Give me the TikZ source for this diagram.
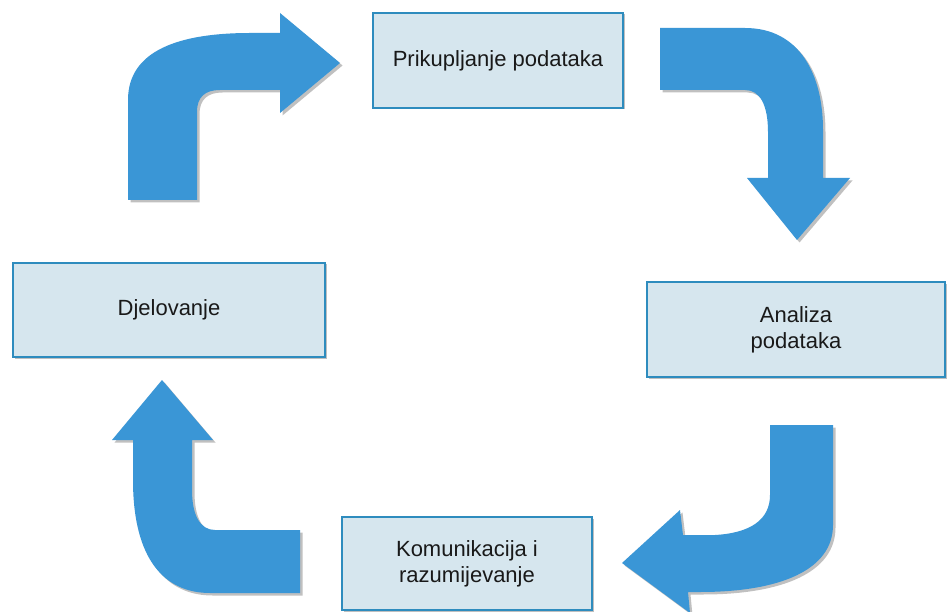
\documentclass[tikz,border=0pt]{standalone}
\usepackage{fontspec}
\setmainfont{Liberation Sans}
\usetikzlibrary{shadows}
\definecolor{arrowblue}{RGB}{58,150,214}
\definecolor{boxfill}{RGB}{214,230,238}
\definecolor{boxline}{RGB}{46,140,190}
\definecolor{txt}{RGB}{25,25,25}
\begin{document}
\begin{tikzpicture}[x=1pt,y=-1pt,
  stagebox/.style={draw=boxline, line width=2.5pt, fill=boxfill, text=txt,
    align=center, font=\fontsize{22}{26}\selectfont, inner sep=0pt,
    drop shadow={shadow xshift=1.5pt, shadow yshift=-1.5pt, opacity=0.25, fill=black}},
  bigarrow/.style={fill=arrowblue, draw=none,
    drop shadow={shadow xshift=2.5pt, shadow yshift=-2.5pt, opacity=0.35, fill=black!70}}]
\useasboundingbox (0,0) rectangle (947,612);
\fill[white] (0,0) rectangle (947,612);

% boxes
\node[stagebox, minimum width=250pt, minimum height=95pt] (collect) at (498,60.5) {Prikupljanje podataka};
\node[stagebox, minimum width=312pt, minimum height=94pt] (act) at (169,310) {Djelovanje};
\node[stagebox, minimum width=298pt, minimum height=95pt] (analyse) at (796,329.5) {Analiza\\podataka};
\node[stagebox, minimum width=250pt, minimum height=93pt] (comm) at (467,563.5) {Komunikacija i\\razumijevanje};

% top-left arrow
\path[bigarrow] (128,200) -- (128,100) .. controls (128,50) and (180,33) .. (250,33)
  -- (280,33) -- (280,13) -- (340,63) -- (280,113) -- (280,90) -- (220,90)
  .. controls (205,90) and (197,97) .. (197,112) -- (197,200) -- cycle;

% top-right arrow
\path[bigarrow] (660,28) -- (745,28) .. controls (800,28) and (823,75) .. (823,130)
  -- (823,178) -- (850,178) -- (797,240) -- (747,178) -- (768,178) -- (768,132)
  .. controls (768,105) and (760,90) .. (745,90) -- (660,90) -- cycle;

% bottom-right arrow
\path[bigarrow] (770,425) -- (833,425) -- (833,525) .. controls (833,570) and (780,592) .. (700,592)
  -- (688,592) -- (690,613) -- (622,563) -- (680,510) -- (683,535) -- (715,535)
  .. controls (750,533) and (770,520) .. (770,495) -- cycle;

% bottom-left arrow
\path[bigarrow] (162,380) -- (213,440) -- (192,440) -- (192,490)
  .. controls (192,515) and (200,530) .. (215,530) -- (300,530) -- (300,593) -- (210,593)
  .. controls (165,593) and (133,560) .. (133,480) -- (133,440) -- (112,440) -- cycle;
\end{tikzpicture}
\end{document}
